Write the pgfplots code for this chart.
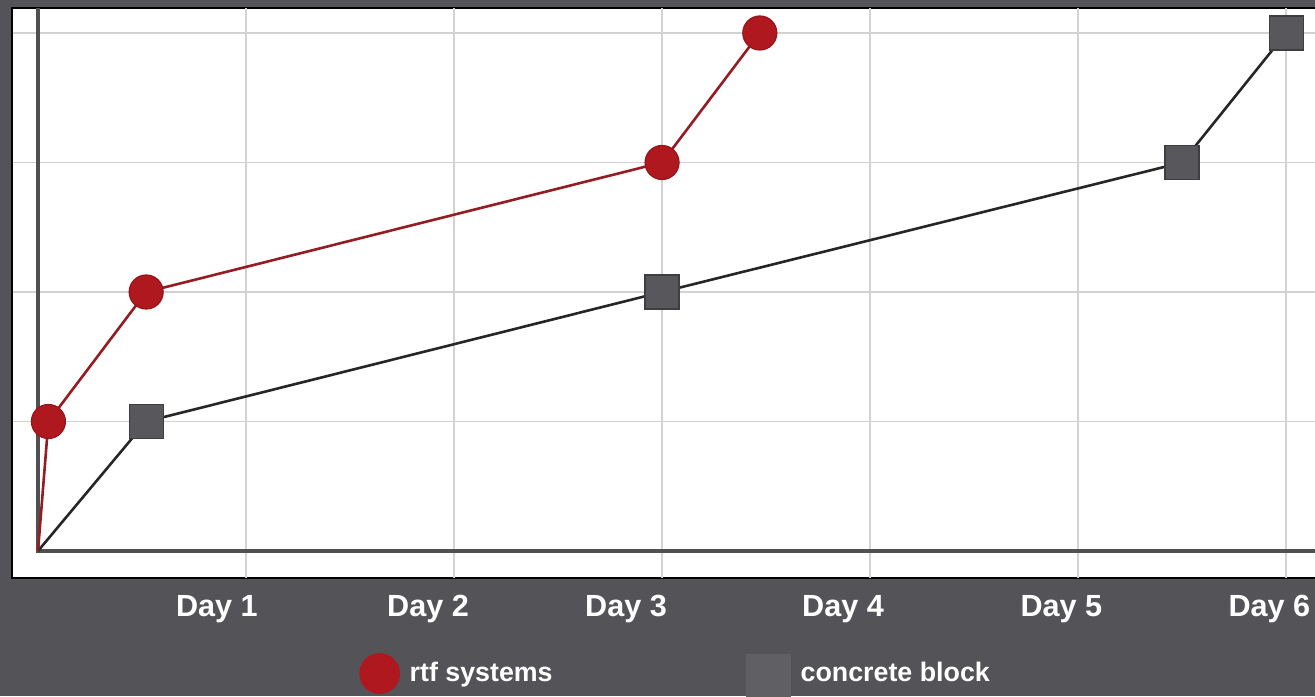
\documentclass[border=0pt]{standalone}
\usepackage{pgfplots}
\pgfplotsset{compat=1.18}
\usepackage{fontspec}
\setmainfont{Liberation Sans}
\definecolor{bg}{HTML}{545458}
\definecolor{rtfred}{HTML}{B0181F}
\definecolor{rtfline}{HTML}{951C22}
\definecolor{sqfill}{HTML}{58585C}
\definecolor{sqedge}{HTML}{3E3E41}
\definecolor{gridc}{HTML}{D2D2D2}
\definecolor{axgrey}{HTML}{505052}
\begin{document}
\begin{tikzpicture}
\fill[bg] (0,0) rectangle (657.5pt,348pt);
\begin{axis}[
  at={(6pt,59pt)}, anchor=south west,
  width=654pt, height=285pt, scale only axis,
  xmin=-0.125, xmax=6.163, ymin=-0.2085, ymax=4.193,
  axis background/.style={fill=white},
  axis line style={black, line width=1.2pt},
  xtick={0.86,1.875,2.827,3.87,4.92,5.92},
  xticklabels={Day 1,Day 2,Day 3,Day 4,Day 5,Day 6},
  extra x ticks={1,2,3,4,5,6},
  extra x tick labels={},
  extra x tick style={grid=major},
  ytick={1,2,3,4},
  yticklabels={},
  ymajorgrids,
  major grid style={gridc, line width=0.9pt},
  major tick length=0pt,
  xticklabel style={font=\fontsize{15.3}{18}\selectfont\bfseries, text=white, anchor=north, inner sep=0pt, yshift=-8.5pt},
  legend style={at={(0.2655,-0.172)}, anchor=west, draw=none, fill=none,
    legend columns=2, font=\fontsize{13.4}{16}\selectfont\bfseries, text=white,
    inner sep=0pt, nodes={inner sep=0pt},
    /tikz/every odd column/.append style={column sep=5pt},
    /tikz/every even column/.append style={column sep=97pt}},
  legend cell align=left,
  legend image code/.code={\draw[#1] plot coordinates {(0pt,0pt)};},
]
\addlegendimage{only marks, mark=*, mark size=10pt, color=rtfred, mark options={fill=rtfred, draw=rtfred}, yshift=0pt}
\addlegendentry{rtf systems}
\addlegendimage{only marks, mark=square*, mark size=11pt, color=sqfill!95!white, mark options={fill=sqfill!95!white, draw=sqfill!95!white}, yshift=-1.5pt}
\addlegendentry{concrete block}
\addplot[draw=axgrey, line width=1.7pt, forget plot] coordinates {(0,4.193) (0,0) (6.163,0)};
\addplot[color=black!85, line width=1.3pt, mark=square*, mark size=8.5pt, mark indices={2,3,4,5},
  mark options={fill=sqfill, draw=sqedge, line width=0.6pt}, forget plot]
  coordinates {(0,0) (0.52,1) (3.0,2) (5.5,3) (6.0,4)};
\addplot[color=rtfline, line width=1.3pt, mark=*, mark size=8.5pt, mark indices={2,3,4,5},
  mark options={fill=rtfred, draw=rtfred!85!black, line width=0.6pt}, forget plot]
  coordinates {(0,0) (0.05,1) (0.52,2) (3.0,3) (3.47,4)};
\end{axis}
\pgfresetboundingbox
\useasboundingbox (0,0) rectangle (657.5pt,348pt);
\end{tikzpicture}
\end{document}
